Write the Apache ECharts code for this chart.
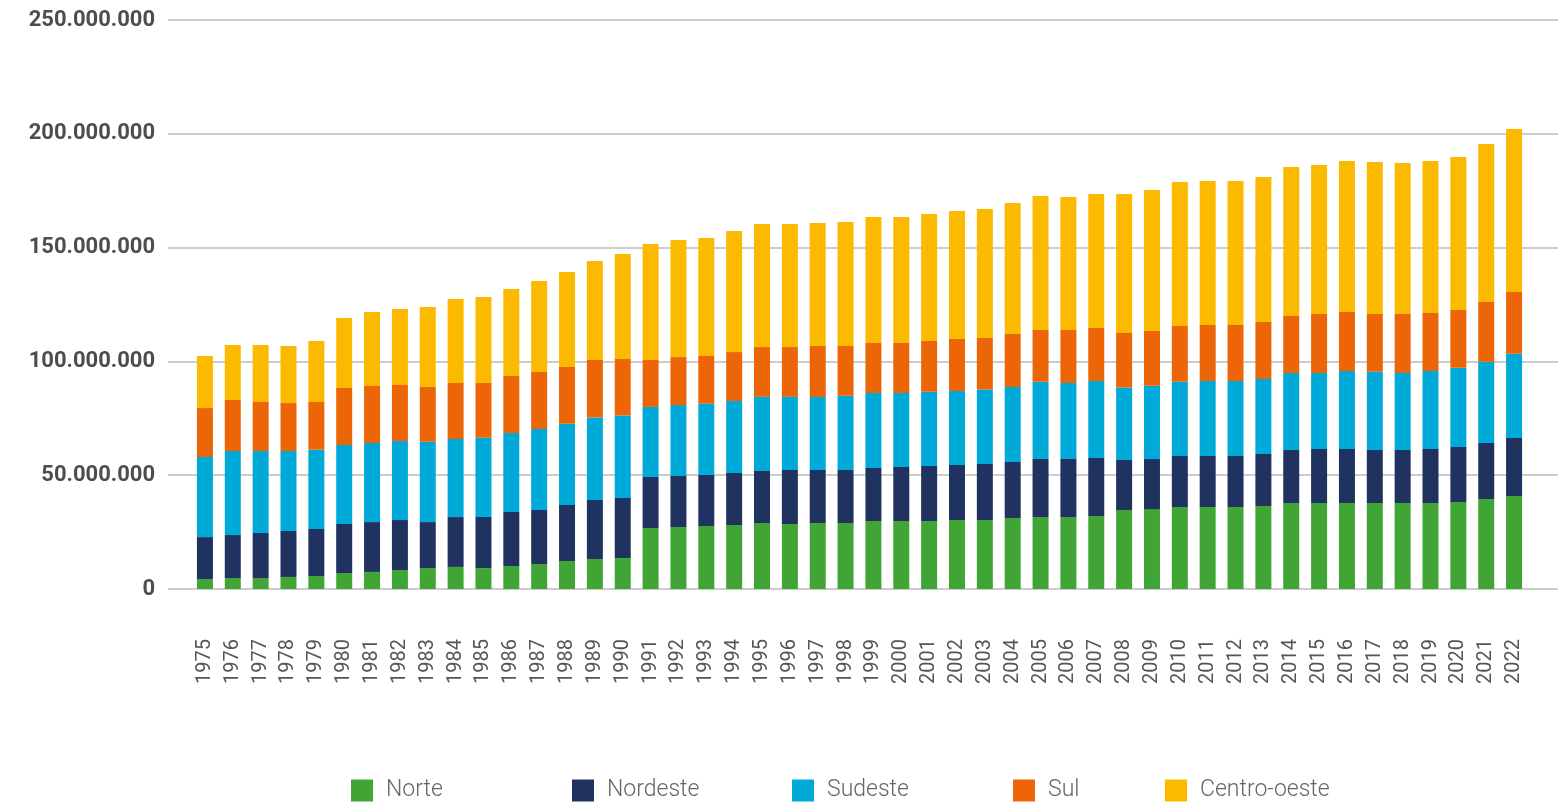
<!DOCTYPE html>
<html>
<head>
<meta charset="utf-8">
<script src="https://cdn.jsdelivr.net/npm/echarts@6/dist/echarts.min.js"></script>
<style>
html,body{margin:0;padding:0;background:#fff;}
#chart{width:1568px;height:806px;}
</style>
</head>
<body>
<div id="chart"></div>
<script>
// Values in millions of units
const years = ["1975","1976","1977","1978","1979","1980","1981","1982","1983","1984","1985","1986","1987","1988","1989","1990","1991","1992","1993","1994","1995","1996","1997","1998","1999","2000","2001","2002","2003","2004","2005","2006","2007","2008","2009","2010","2011","2012","2013","2014","2015","2016","2017","2018","2019","2020","2021","2022"];
const norte = [4.4,4.8,4.8,5.3,5.7,7.0,7.5,8.3,9.2,9.7,9.2,10.1,11.0,12.3,13.2,13.6,26.8,27.2,27.7,28.1,29.0,28.6,29.0,29.0,29.9,29.9,29.9,30.3,30.3,31.2,31.6,31.6,32.1,34.7,35.1,36.0,36.0,36.0,36.5,37.8,37.8,37.8,37.8,37.8,37.8,38.2,39.5,40.9];
const nordeste = [18.4,18.9,19.8,20.2,20.7,21.6,21.9,22.0,20.2,21.9,22.4,23.7,23.7,24.6,25.9,26.4,22.4,22.4,22.4,22.9,22.8,23.7,23.3,23.3,23.3,23.7,24.1,24.2,24.6,24.6,25.5,25.5,25.5,22.0,22.0,22.4,22.4,22.4,22.8,23.3,23.7,23.7,23.3,23.3,23.7,24.2,24.6,25.4];
const sudeste = [35.2,36.9,36.0,35.1,34.8,34.7,34.7,34.7,35.3,34.3,34.9,34.7,35.6,35.7,36.2,36.2,30.8,31.2,31.3,31.6,32.6,32.1,32.1,32.6,32.9,32.5,32.7,32.5,32.7,33.0,34.0,33.4,33.8,31.8,32.2,32.7,33.0,33.0,33.0,33.8,33.4,34.3,34.4,33.8,34.3,34.8,35.8,37.1];
const sul = [21.5,22.4,21.6,21.1,21.0,25.0,25.1,24.6,24.1,24.6,24.0,25.1,25.0,24.9,25.3,24.9,20.6,21.1,21.0,21.5,21.9,21.9,22.4,21.9,22.0,22.0,22.3,22.8,22.7,23.2,22.7,23.3,23.3,24.0,24.1,24.5,24.6,24.6,25.0,25.0,25.9,25.9,25.3,25.9,25.5,25.4,26.2,27.1];
const centroOeste = [22.9,24.2,25.0,25.1,26.8,30.8,32.5,33.4,35.1,36.9,37.8,38.2,40.0,41.8,43.5,46.1,51.0,51.4,51.8,53.2,54.1,54.1,54.0,54.4,55.3,55.3,55.8,56.3,56.7,57.6,58.9,58.4,58.9,61.1,61.9,63.2,63.3,63.3,63.7,65.5,65.5,66.3,66.8,66.4,66.7,67.2,69.4,71.6];
const seriesNames = ["Norte","Nordeste","Sudeste","Sul","Centro-oeste"];
const seriesColors = ["#40A535","#1F3260","#00AAD8","#EC6608","#FBBA00"];
const seriesData = [norte, nordeste, sudeste, sul, centroOeste];

function fmt(v){
  const n = Math.round(v * 1e6);
  return String(n).replace(/\B(?=(\d{3})+(?!\d))/g, ".");
}

const chart = echarts.init(document.getElementById('chart'));
const legendLefts = [346, 567, 787, 1008, 1160];

const option = {
  animation: false,
  backgroundColor: '#ffffff',
  grid: [
    {left: 191, right: 40, top: 20, bottom: 217},
    {left: 168, right: 10, top: 20, bottom: 217}
  ],
  xAxis: [
    {
      type: 'category', gridIndex: 0, data: years,
      axisLine: {show: false}, axisTick: {show: false},
      axisLabel: {interval: 0, rotate: 90, margin: 50, color: '#555555', fontSize: 20, fontFamily: 'Roboto'}
    },
    {type: 'value', gridIndex: 1, show: false, min: 0, max: 1}
  ],
  yAxis: [
    {type: 'value', gridIndex: 0, min: 0, max: 250, interval: 50, show: false, splitLine: {show: false}},
    {
      type: 'value', gridIndex: 1, min: 0, max: 250, interval: 50,
      axisLine: {show: false}, axisTick: {show: false},
      axisLabel: {margin: 13, color: '#4d4d4d', fontSize: 22, fontWeight: 'bold', fontFamily: 'Roboto', formatter: fmt},
      splitLine: {show: true, lineStyle: {color: '#cccccc', width: 2}}
    }
  ],
  legend: seriesNames.map((n, i) => ({
    data: [n], left: legendLefts[i], top: 774,
    itemWidth: 22, itemHeight: 22, icon: 'rect',
    textStyle: {color: '#666666', fontSize: 23, fontWeight: 300, fontFamily: 'Roboto', padding: [0,0,0,8]}
  })),
  series: seriesNames.map((n, i) => ({
    name: n, type: 'bar', stack: 'total', xAxisIndex: 0, yAxisIndex: 0,
    barWidth: 16, data: seriesData[i],
    itemStyle: {color: seriesColors[i]}
  }))
};
chart.setOption(option);
</script>
</body>
</html>
